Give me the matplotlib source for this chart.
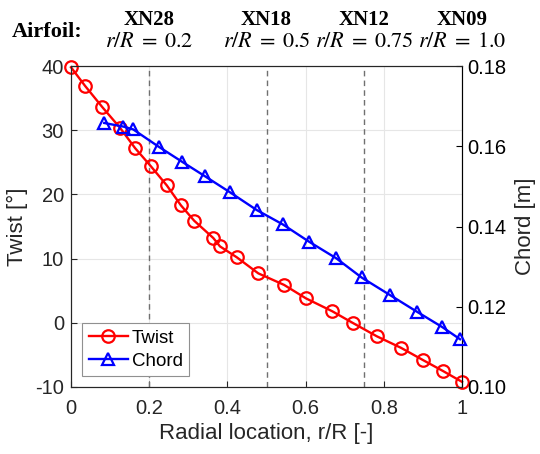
import matplotlib.pyplot as plt

# twist distribution along the blade
twist_r = [0.0, 0.036, 0.080, 0.125, 0.164, 0.204, 0.245, 0.281, 0.315, 0.364, 0.381,
           0.424, 0.479, 0.545, 0.601, 0.668, 0.720, 0.782, 0.844, 0.900, 0.951, 1.0]
twist = [39.8, 36.9, 33.6, 30.4, 27.2, 24.4, 21.4, 18.3, 15.9, 13.2, 11.9,
         10.2, 7.7, 5.9, 3.8, 1.8, 0.0, -2.1, -3.9, -5.8, -7.5, -9.2]

# chord distribution along the blade
chord_r = [0.085, 0.134, 0.159, 0.224, 0.283, 0.343, 0.407, 0.475, 0.542, 0.609,
           0.678, 0.743, 0.816, 0.884, 0.950, 0.995]
chord = [0.1658, 0.1649, 0.1642, 0.1599, 0.1562, 0.1525, 0.1485, 0.1441, 0.1405, 0.1362,
         0.1321, 0.1273, 0.1229, 0.1188, 0.1149, 0.1119]

# airfoil sections
airfoil_names = ["XN28", "XN18", "XN12", "XN09"]
airfoil_r = [0.2, 0.5, 0.75, 1.0]
airfoil_labels = ["0.2", "0.5", "0.75", "1.0"]

plt.rcParams["font.family"] = ["Liberation Sans", "DejaVu Sans"]
plt.rcParams["mathtext.fontset"] = "stix"
plt.rcParams["axes.unicode_minus"] = False
txt = "#262626"

fig = plt.figure(figsize=(5.4, 4.54), dpi=100)
ax = fig.add_axes([0.1315, 0.1476, 0.7241, 0.707])
ax2 = ax.twinx()

ax.set_xlim(0, 1)
ax.set_ylim(-10, 40)
ax2.set_ylim(0.10, 0.18)
ax.set_xticks([0, 0.2, 0.4, 0.6, 0.8, 1.0])
ax.set_xticklabels(["0", "0.2", "0.4", "0.6", "0.8", "1"])
ax.set_yticks([-10, 0, 10, 20, 30, 40])
ax2.set_yticks([0.10, 0.12, 0.14, 0.16, 0.18])
ax2.set_yticklabels(["0.10", "0.12", "0.14", "0.16", "0.18"])
ax.grid(True, color="#e6e6e6", linewidth=0.8, zorder=0)
ax.set_axisbelow(True)

for r in airfoil_r[:3]:
    ax.axvline(r, color="#707070", linestyle=(0, (4, 3)), linewidth=1.0, zorder=2)

l1, = ax.plot(twist_r, twist, "-o", color="red", linewidth=1.7, markersize=9,
              markerfacecolor="none", markeredgewidth=1.6, label="Twist", zorder=4,
              clip_on=False)
l2, = ax2.plot(chord_r, chord, "-^", color="blue", linewidth=1.7, markersize=9,
               markerfacecolor="none", markeredgewidth=1.6, label="Chord", zorder=4,
               clip_on=False)

for a in (ax, ax2):
    a.tick_params(direction="in", labelsize=14.5, colors=txt, length=4)
    for s in a.spines.values():
        s.set_color(txt)
        s.set_linewidth(0.8)
ax.tick_params(axis="x", pad=9)
ax.tick_params(axis="y", pad=5)
ax2.tick_params(axis="y", pad=4)
ax2.spines["right"].set_color("black")
ax2.tick_params(axis="y", colors="black")

ax.set_xlabel("Radial location, r/R [-]", fontsize=16, color=txt, labelpad=3)
ax.set_ylabel("Twist [°]", fontsize=16, color=txt, labelpad=5)
ax2.set_ylabel("Chord [m]", fontsize=16, color=txt, labelpad=6)

leg = ax2.legend(handles=[l1, l2], loc="lower left", fontsize=13.5, handlelength=2.1,
                 handletextpad=0.2, borderpad=0.35, labelspacing=0.3, fancybox=False,
                 framealpha=1, borderaxespad=0, bbox_to_anchor=(0.028, 0.034))
leg.get_frame().set_edgecolor("#909090")
leg.get_frame().set_linewidth(0.8)

for name, r, lab in zip(airfoil_names, airfoil_r, airfoil_labels):
    ax.text(r, 1.128, name, transform=ax.get_xaxis_transform(), ha="center",
            va="baseline", fontsize=15, fontweight="bold", family="Liberation Serif")
    ax.text(r, 1.059, r"$r/R\;=\;\mathrm{" + lab + "}$", transform=ax.get_xaxis_transform(),
            ha="center", va="baseline", fontsize=16)
fig.text(12 / 540, 1 - 37 / 454, "Airfoil:", ha="left", va="baseline", fontsize=16,
         fontweight="bold", family="Liberation Serif")

fig.savefig("out.png", dpi=100)
